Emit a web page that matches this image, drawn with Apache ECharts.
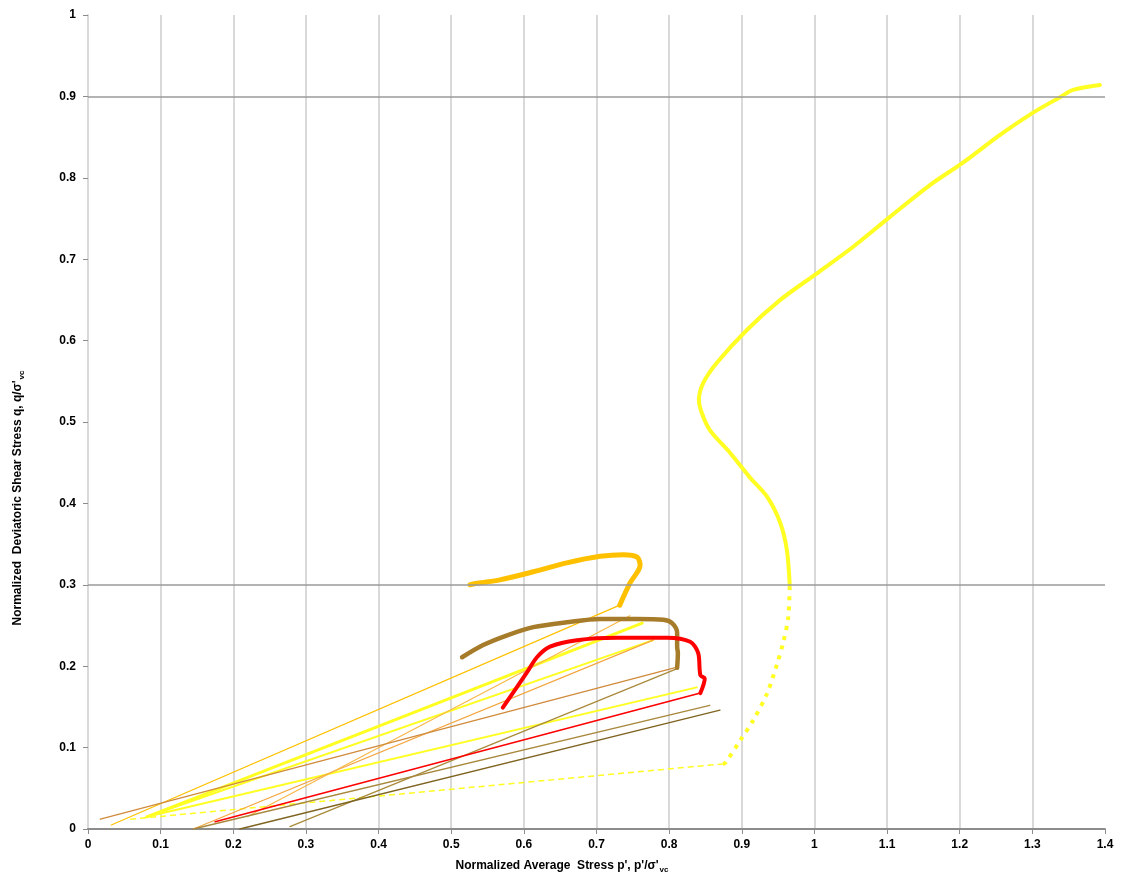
<!DOCTYPE html>
<html>
<head>
<meta charset="utf-8">
<script src="https://cdn.jsdelivr.net/npm/echarts@6/dist/echarts.min.js"></script>
<style>
html,body{margin:0;padding:0;background:#fff;}
#chart{width:1124px;height:888px;}
</style>
</head>
<body>
<div id="chart"></div>
<script>
// ---- data: [p'/σ'vc, q/σ'vc] ----
const yellowShearLower = [[0.874,0.080],[0.877,0.081],[0.898,0.109],[0.916,0.134],[0.935,0.167],[0.949,0.204],[0.957,0.229],[0.964,0.260],[0.966,0.300]];
const yellowShearUpper = [[0.966,0.300],[0.962,0.343],[0.953,0.376],[0.935,0.408],[0.911,0.432],[0.884,0.462],[0.856,0.490],[0.845,0.511],[0.841,0.527],[0.847,0.548],[0.866,0.573],[0.907,0.613],[0.953,0.650],[1.004,0.683],[1.053,0.715],[1.104,0.752],[1.159,0.791],[1.205,0.819],[1.256,0.853],[1.301,0.880],[1.338,0.899],[1.356,0.908],[1.393,0.914]];
const yellowConsol = [[0.058,0.012],[0.874,0.080]];
const yellowCycleA = [[0.081,0.015],[0.763,0.253]];
const yellowCycleB = [[0.081,0.015],[0.778,0.232]];
const yellowCycleC = [[0.081,0.015],[0.838,0.174]];

const goldShear = [[0.732,0.275],[0.746,0.302],[0.760,0.324],[0.756,0.334],[0.737,0.337],[0.705,0.335],[0.659,0.327],[0.613,0.316],[0.567,0.306],[0.536,0.302],[0.526,0.300]];
const goldConsol = [[0.032,0.005],[0.732,0.275]];
const orangeLineA = [[0.145,0.000],[0.778,0.232]];
const orangeLineB = [[0.219,0.015],[0.746,0.262]];

const brownShear = [[0.811,0.198],[0.812,0.216],[0.811,0.224],[0.811,0.241],[0.804,0.253],[0.792,0.257],[0.756,0.258],[0.705,0.258],[0.659,0.254],[0.613,0.248],[0.577,0.238],[0.544,0.226],[0.515,0.211]];
const brownOrangeLine = [[0.017,0.012],[0.811,0.199]];
const brownSteepLine = [[0.278,0.003],[0.811,0.197]];
const ochreLine = [[0.145,0.000],[0.856,0.152]];
const darkBrownLine = [[0.209,0.000],[0.870,0.146]];

const redShear = [[0.843,0.167],[0.849,0.185],[0.843,0.189],[0.840,0.216],[0.829,0.230],[0.797,0.235],[0.728,0.235],[0.673,0.232],[0.636,0.224],[0.618,0.211],[0.604,0.192],[0.571,0.149]];
const redConsol = [[0.175,0.009],[0.843,0.167]];

const gridLinesY = [0.3, 0.9];

const FONT = '"Liberation Sans", Arial, sans-serif';

function seg(data, color, width, type, z, smooth) {
  const dashed = Array.isArray(type);
  return {type:'line', data:data, showSymbol:false, symbol:'none', silent:true, animation:false,
    smooth:smooth||false,
    z:z||2, lineStyle:{color:color, width:width, type:type||'solid', cap:dashed?'butt':'round', join:'round'}};
}

const chart = echarts.init(document.getElementById('chart'), null, {renderer:'canvas'});
chart.setOption({
  animation:false,
  backgroundColor:'#fff',
  grid:{left:88, right:19, top:15, bottom:59, containLabel:false},
  xAxis:{
    type:'value', min:0, max:1.4, interval:0.1,
    axisLine:{show:true, onZero:false, lineStyle:{color:'#8c8c8c', width:2}},
    axisTick:{show:true, length:5, lineStyle:{color:'#8c8c8c', width:1}},
    axisLabel:{color:'#000', fontWeight:'bold', fontSize:12, fontFamily:FONT, margin:10},
    splitLine:{show:true, showMaxLine:false, lineStyle:{color:'#d9d9d9', width:2}}
  },
  yAxis:{
    type:'value', min:0, max:1, interval:0.1,
    axisLine:{show:true, onZero:false, lineStyle:{color:'#d9d9d9', width:2}},
    axisTick:{show:true, length:5, lineStyle:{color:'#8c8c8c', width:1}},
    axisLabel:{color:'#000', fontWeight:'bold', fontSize:12, fontFamily:FONT, margin:12},
    splitLine:{show:false}
  },
  graphic:[
    {type:'text', left:'center', top:860, z:10,
      style:{text:"Normalized Average  Stress p', p'/σ'{s|vc}", font:'bold 12px '+FONT, fill:'#000',
        rich:{s:{fontSize:8, fontWeight:'bold', fontFamily:FONT, fill:'#000', padding:[7,0,0,1]}}}},
    {type:'text', x:18, y:498, rotation:Math.PI/2, z:10,
      style:{text:"Normalized  Deviatoric Shear Stress q, q/σ'{s|vc}", font:'bold 12px '+FONT, fill:'#000',
        align:'center', verticalAlign:'middle',
        rich:{s:{fontSize:8, fontWeight:'bold', fontFamily:FONT, fill:'#000', padding:[7,0,0,1]}}}}
  ],
  series:[
    {type:'line', data:[], z:1, silent:true,
      markLine:{silent:true, symbol:'none', animation:false, label:{show:false},
        lineStyle:{color:'#9a9a9a', width:1.5, type:'solid'},
        data:gridLinesY.map(v=>({yAxis:v}))}},
    seg(yellowConsol, '#ffff22', 1.5, [6,4]),
    seg(yellowCycleC, '#ffff22', 2),
    seg(yellowCycleB, '#ffff22', 2),
    seg(yellowCycleA, '#ffff22', 3),
    seg(goldConsol, '#ffc000', 1.2),
    seg(orangeLineA, '#f4a640', 1.2),
    seg(orangeLineB, '#f8b848', 1.2),
    seg(brownOrangeLine, '#d08a3c', 1.3),
    seg(brownSteepLine, '#a88a3a', 1.3),
    seg(ochreLine, '#a8883c', 1.3),
    seg(darkBrownLine, '#7f6420', 1.3),
    seg(redConsol, '#ff0000', 1.6),
    seg(yellowShearLower, '#ffff22', 4, [4,6], 3, 0.3),
    seg(yellowShearUpper, '#ffff22', 4, 'solid', 3, 0.3),
    seg(goldShear, '#ffc000', 5, 'solid', 4, 0.3),
    seg(brownShear, '#a67c2a', 4.5, 'solid', 4, 0.3),
    seg(redShear, '#ff0000', 4, 'solid', 5, 0.3)
  ]
});
</script>
</body>
</html>
